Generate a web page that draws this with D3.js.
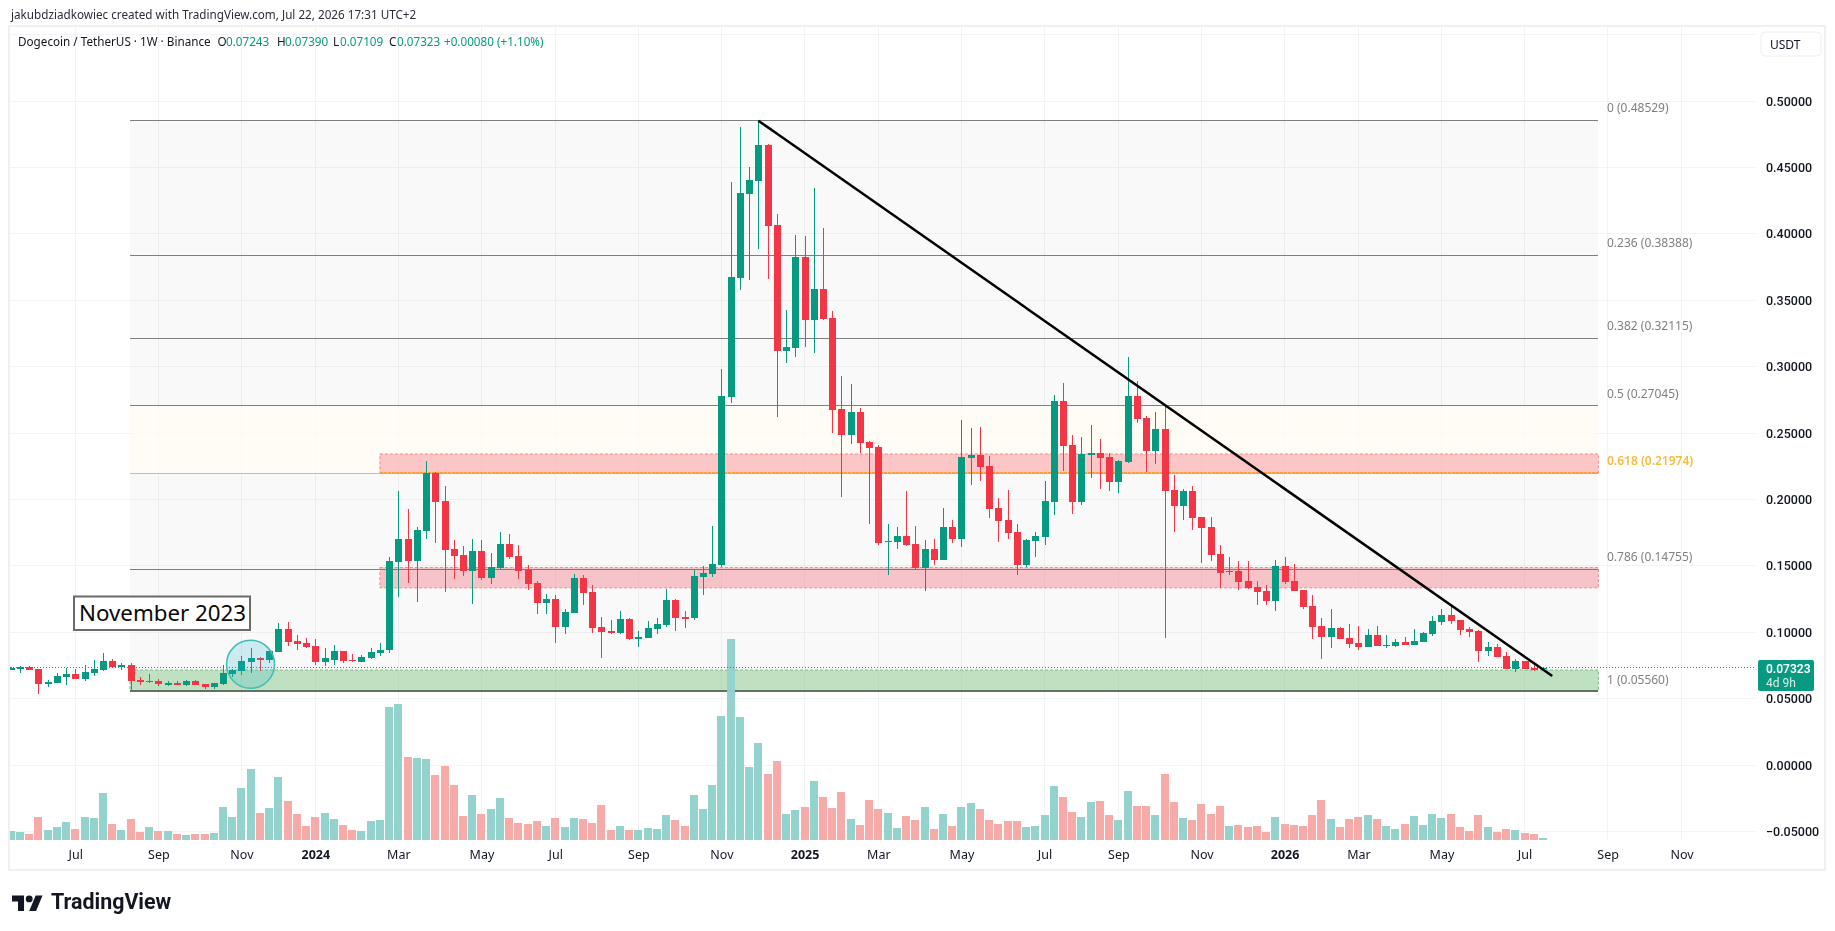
<!DOCTYPE html>
<html>
<head>
<meta charset="utf-8">
<title>Dogecoin / TetherUS weekly</title>
<script src="https://cdn.jsdelivr.net/npm/d3@7/dist/d3.min.js"></script>
<style>
  html, body { margin: 0; padding: 0; background: #fff; }
  svg { display: block; }
  text { font-family: "Noto Sans", "Open Sans", sans-serif; }
</style>
</head>
<body>
<svg id="chart" width="1835" height="931"></svg>
<script>
// Weekly bars, oldest first
const firstWeek = "2023-05-15";
const opens = [
  .0723,.0720,.0740,.0723,.0617,.0617,.0665,.0685,.0645,.0693,
  .0715,.0781,.0745,.0753,.0640,.0635,.0635,.0612,.0615,.0602,
  .0633,.0607,.0590,.0610,.0688,.0710,.0778,.0803,.0788,.0853,
  .1022,.0934,.0919,.0894,.0778,.0791,.0858,.0791,.0778,.0806,
  .0846,.0866,.1531,.1702,.1539,.1765,.2199,.1988,.1627,.1581,
  .1463,.1611,.1411,.1483,.1664,.1574,.1471,.1370,.1222,.1250,
  .1042,.1147,.1408,.1303,.1039,.1009,.0996,.1102,.0954,.0959,
  .1027,.1057,.1242,.1114,.1107,.1418,.1441,.1506,.2774,.3670,
  .4302,.4400,.4669,.4064,.3120,.3140,.3825,.3351,.3584,.3366,
  .2681,.2485,.2658,.2432,.2395,.1682,.1682,.1724,.1664,.1483,
  .1627,.1544,.1792,.1702,.2312,.2334,.2252,.1935,.1845,.1755,
  .1506,.1687,.1717,.1980,.2741,.2410,.1980,.2344,.2349,.2319,
  .2131,.2282,.2779,.2613,.2364,.2530,.2071,.1950,.2063,.1867,
  .1792,.1589,.1451,.1461,.1386,.1340,.1310,.1235,.1498,.1386,
  .1318,.1197,.1047,.0964,.1032,.0956,.0919,.0889,.0979,.0896,
  .0896,.0926,.0904,.0926,.0986,.1077,.1130,.1092,.1024,.1009,
  .0858,.0889,.0821,.0723,.0783,.0730,.07243
];
const highs = [
  .0735,.0745,.0745,.0725,.0640,.0695,.0728,.0720,.0750,.0790,
  .0841,.0796,.0771,.0771,.0660,.0685,.0645,.0633,.0635,.0643,
  .0640,.0612,.0620,.0753,.0720,.0821,.0879,.0811,.0871,.1072,
  .1077,.0976,.0954,.0946,.0879,.0904,.0860,.0836,.0826,.0881,
  .0921,.1569,.2063,.1928,.1795,.2292,.2204,.2101,.1694,.1649,
  .1702,.1694,.1594,.1752,.1739,.1654,.1509,.1386,.1288,.1280,
  .1175,.1438,.1428,.1353,.1112,.1089,.1157,.1104,.1007,.1082,
  .1107,.1325,.1247,.1160,.1468,.1498,.1800,.2979,.4388,.4802,
  .4500,.4852,.4676,.4147,.3426,.3991,.3983,.4342,.4044,.3419,
  .2929,.2869,.2688,.2440,.2410,.1815,.1792,.2063,.1800,.1694,
  .1702,.1935,.1845,.2598,.2538,.2545,.2327,.2011,.2071,.1815,
  .1699,.1755,.2139,.2786,.2877,.2485,.2470,.2560,.2455,.2349,
  .2297,.3072,.2892,.2628,.2658,.2703,.2184,.2078,.2101,.1870,
  .1867,.1657,.1566,.1536,.1536,.1386,.1355,.1544,.1566,.1514,
  .1320,.1280,.1107,.1175,.1037,.1062,.1047,.1024,.1047,.0979,
  .0949,.0964,.1024,.1001,.1122,.1175,.1197,.1092,.1039,.1017,
  .0926,.0911,.0851,.0798,.0786,.0761,.07390
];
const lows = [
  .0715,.0690,.0713,.0535,.0585,.0615,.0602,.0645,.0635,.0670,
  .0710,.0730,.0715,.0557,.0605,.0615,.0597,.0595,.0600,.0595,
  .0600,.0572,.0575,.0605,.0660,.0678,.0695,.0710,.0768,.0851,
  .0899,.0866,.0879,.0753,.0745,.0753,.0766,.0773,.0776,.0796,
  .0821,.0846,.1268,.1373,.1230,.1704,.1674,.1305,.1398,.1426,
  .1210,.1393,.1365,.1476,.1549,.1403,.1318,.1137,.1137,.0921,
  .0989,.1145,.1207,.0996,.0808,.0984,.0989,.0944,.0891,.0956,
  .0989,.1042,.1012,.1032,.1094,.1283,.1418,.1493,.2728,.3577,
  .3652,.3888,.3660,.2623,.3030,.3072,.3148,.3102,.3351,.2500,
  .2018,.2417,.2349,.1815,.1657,.1433,.1627,.1652,.1466,.1308,
  .1506,.1540,.1672,.1644,.2108,.2139,.1860,.1679,.1702,.1431,
  .1493,.1566,.1657,.1883,.2214,.1890,.1958,.2161,.2078,.2063,
  .2048,.2272,.2575,.2206,.2267,.0954,.1757,.1845,.1770,.1521,
  .1536,.1333,.1431,.1318,.1325,.1205,.1205,.1160,.1363,.1308,
  .1175,.0949,.0798,.0881,.0946,.0881,.0866,.0886,.0896,.0879,
  .0891,.0901,.0901,.0926,.0971,.1054,.1062,.0979,.0964,.0776,
  .0821,.0813,.0720,.0700,.0720,.0708,.07109
];
const closes = [
  .0730,.0740,.0715,.0610,.0625,.0670,.0685,.0648,.0700,.0725,
  .0783,.0735,.0750,.0635,.0633,.0630,.0610,.0617,.0605,.0633,
  .0605,.0590,.0615,.0690,.0713,.0781,.0803,.0788,.0858,.1022,
  .0929,.0914,.0886,.0778,.0806,.0858,.0783,.0786,.0813,.0851,
  .0866,.1536,.1702,.1539,.1770,.2199,.1983,.1621,.1576,.1463,
  .1611,.1411,.1491,.1664,.1566,.1463,.1363,.1222,.1250,.1042,
  .1152,.1408,.1298,.1034,.1004,.1004,.1097,.0949,.0961,.1032,
  .1062,.1242,.1107,.1107,.1423,.1443,.1514,.2779,.3675,.4307,
  .4405,.4669,.4059,.3120,.3148,.3825,.3351,.3584,.3358,.2673,
  .2485,.2658,.2425,.2387,.1672,.1687,.1724,.1657,.1481,.1627,
  .1544,.1792,.1702,.2319,.2334,.2244,.1928,.1837,.1747,.1506,
  .1694,.1724,.1988,.2741,.2402,.1980,.2342,.2349,.2312,.2131,
  .2289,.2779,.2605,.2364,.2530,.2063,.1950,.2063,.1860,.1785,
  .1581,.1446,.1463,.1378,.1333,.1303,.1235,.1498,.1378,.1310,
  .1190,.1039,.0964,.1032,.0949,.0911,.0889,.0979,.0896,.0904,
  .0926,.0904,.0934,.0994,.1084,.1130,.1084,.1017,.1001,.0858,
  .0889,.0813,.0723,.0783,.0723,.07243,.07323
];
const volumes = [
  35,32,26,77,38,47,62,41,77,74,
  149,56,38,71,32,47,35,35,26,23,
  26,26,29,107,77,164,221,89,104,197,
  125,86,50,77,89,71,53,38,35,65,
  68,407,416,257,254,251,203,230,173,80,
  143,86,101,134,74,59,56,65,50,74,
  47,74,71,59,113,38,50,38,38,44,
  41,83,68,50,143,101,173,380,611,377,
  227,299,206,245,86,98,107,185,137,104,
  152,71,53,128,101,89,44,80,68,107,
  41,86,50,107,119,101,68,56,65,65,
  47,50,83,170,137,92,77,122,125,83,
  68,155,110,110,83,206,122,74,68,116,
  86,110,50,53,47,50,32,77,56,53,
  50,83,128,71,47,71,77,83,71,50,
  41,56,80,53,86,74,86,47,35,83,
  47,32,41,38,29,26,14
];
// Week whose volume is tinted as an up week although its candle closed lower
const upVolumeWeeks = [15];

// Fibonacci retracement: ratio and price of each level
const fibRatios = ["0", "0.236", "0.382", "0.5", "0.618", "0.786", "1"];
const fibPrices = [0.48529, 0.38388, 0.32115, 0.27045, 0.21974, 0.14755, 0.05560];
const fibStart = "2023-08-14";
const fibEnd = "2026-08-31";

// Support and resistance zones: [top price, bottom price, start week]
const redZones = [[0.2342, 0.21974, "2024-02-19"], [0.1487, 0.1334, "2024-02-19"]];
const greenZone = [0.0715, 0.05560, fibStart];

// Falling trendline from the 2024 high to the latest week
const trendDates = ["2024-12-02", "2026-07-27"];
const trendPrices = [0.4852, 0.0670];

const priceTicks = [0.55, 0.50, 0.45, 0.40, 0.35, 0.30, 0.25, 0.20, 0.15, 0.10, 0.05, 0.00, -0.05];
const monthTicks = ["2023-07-03","2023-09-04","2023-11-06","2024-01-01","2024-03-04","2024-05-06","2024-07-01",
  "2024-09-02","2024-11-04","2025-01-06","2025-03-03","2025-05-05","2025-07-07","2025-09-01","2025-11-03",
  "2026-01-05","2026-03-02","2026-05-04","2026-07-06","2026-09-07","2026-11-02"];
const monthLabels = ["Jul","Sep","Nov","2024","Mar","May","Jul","Sep","Nov","2025","Mar","May","Jul","Sep","Nov",
  "2026","Mar","May","Jul","Sep","Nov"];

const lastPrice = 0.07323;
const attribution = "jakubdziadkowiec created with TradingView.com, Jul 22, 2026 17:31 UTC+2";

const UP = "#089981", DOWN = "#f23645", UP_VOL = "#92d2cc", DOWN_VOL = "#f7a9a7";
const GRID = "#f3f3f5", FIB_LINE = "#7f7f7f", GOLD = "#f5bd3f";
const frame = { left: 10, right: 1825, top: 27, bottom: 870, plotRight: 1755, axisY: 840 };

const parse = d3.utcParse("%Y-%m-%d");
const weeks = opens.map((_, i) => d3.utcWeek.offset(parse(firstWeek), i));

const x = d3.scaleUtc()
  .domain([parse(firstWeek), weeks[weeks.length - 1]])
  .range([10.67, 1543]);
const y = d3.scaleLinear().domain([-0.05, 0.5]).range([831.4, 101]);
const yVol = d3.scaleLinear().domain([0, 611]).range([842.7, 639]);

const svg = d3.select("#chart");
const clip = svg.append("defs").append("clipPath").attr("id", "plot");
clip.append("rect").attr("x", frame.left).attr("y", frame.top)
  .attr("width", frame.plotRight - frame.left).attr("height", frame.axisY - frame.top);

// Outer frame
svg.append("rect")
  .attr("x", frame.left - 1).attr("y", frame.top - 1)
  .attr("width", frame.right - frame.left + 1).attr("height", frame.bottom - frame.top + 1)
  .attr("fill", "#fff").attr("stroke", "#f0f0f1").attr("stroke-width", 2);

// Grid
const grid = svg.append("g").attr("shape-rendering", "crispEdges");
grid.selectAll(".h").data(priceTicks).join("line")
  .attr("x1", frame.left).attr("x2", frame.plotRight)
  .attr("y1", d => y(d)).attr("y2", d => y(d))
  .attr("stroke", GRID);
grid.selectAll(".v").data(monthTicks).join("line")
  .attr("x1", d => x(parse(d))).attr("x2", d => x(parse(d)))
  .attr("y1", frame.top).attr("y2", frame.axisY)
  .attr("stroke", GRID);

// Fibonacci bands and levels
const fibX0 = x(parse(fibStart)) - 0.7, fibX1 = x(parse(fibEnd));
const fibBands = svg.append("g").attr("shape-rendering", "crispEdges");
fibPrices.slice(0, -1).forEach((p, i) => {
  fibBands.append("rect")
    .attr("x", fibX0).attr("width", fibX1 - fibX0)
    .attr("y", y(p)).attr("height", y(fibPrices[i + 1]) - y(p))
    .attr("fill", fibRatios[i] === "0.5" ? "#fff9f0" : "#787878")
    .attr("fill-opacity", fibRatios[i] === "0.5" ? 0.65 : 0.045);
});
fibBands.selectAll("line").data(fibPrices).join("line")
  .attr("x1", fibX0).attr("x2", fibX1)
  .attr("y1", d => y(d)).attr("y2", d => y(d))
  .attr("stroke", (d, i) => fibRatios[i] === "0.618" ? GOLD : FIB_LINE);

svg.append("g").selectAll("text").data(fibPrices).join("text")
  .attr("x", 1607).attr("y", (d, i) => y(d) - (i === 6 ? 11.5 : 12.5))
  .attr("dy", "0.35em")
  .attr("font-size", 12)
  .attr("font-weight", (d, i) => fibRatios[i] === "0.618" ? 600 : 400)
  .attr("fill", (d, i) => fibRatios[i] === "0.618" ? GOLD : "#808080")
  .text((d, i) => `${fibRatios[i]} (${d.toFixed(5)})`);

// Zones
const zones = svg.append("g");
redZones.forEach(([top, bottom, start]) => {
  zones.append("rect")
    .attr("x", x(parse(start))).attr("width", fibX1 - x(parse(start)))
    .attr("y", y(top)).attr("height", y(bottom) - y(top))
    .attr("fill", "#f23645").attr("fill-opacity", 0.27)
    .attr("stroke", "#f28a92").attr("stroke-dasharray", "3 2");
});
zones.append("rect")
  .attr("x", fibX0).attr("width", fibX1 - fibX0)
  .attr("y", y(greenZone[0])).attr("height", y(greenZone[1]) - y(greenZone[0]))
  .attr("fill", "#4caf50").attr("fill-opacity", 0.33)
  .attr("stroke", "#7fb98a").attr("stroke-dasharray", "3 2");

// Level lines that remain visible on top of the zones
const overZones = svg.append("g").attr("shape-rendering", "crispEdges");
overZones.append("line")
  .attr("x1", x(parse(redZones[0][2]))).attr("x2", fibX1)
  .attr("y1", y(fibPrices[4])).attr("y2", y(fibPrices[4]))
  .attr("stroke", "#f9a13c").attr("stroke-dasharray", "3 1").attr("stroke-width", 1.5);
overZones.append("line")
  .attr("x1", x(parse(redZones[1][2]))).attr("x2", fibX1)
  .attr("y1", y(fibPrices[5])).attr("y2", y(fibPrices[5]))
  .attr("stroke", "#9c6a70");
overZones.append("line")
  .attr("x1", fibX0).attr("x2", fibX1)
  .attr("y1", y(fibPrices[6])).attr("y2", y(fibPrices[6]))
  .attr("stroke", "#5f7362").attr("stroke-width", 1.5);

// Volume
const isUp = i => closes[i] >= opens[i];
const volUp = i => isUp(i) || upVolumeWeeks.includes(i);
svg.append("g").attr("clip-path", "url(#plot)").attr("shape-rendering", "crispEdges")
  .selectAll("rect").data(volumes).join("rect")
  .attr("x", (d, i) => x(weeks[i]) - 4)
  .attr("width", 8)
  .attr("y", d => yVol(d))
  .attr("height", d => yVol(0) - yVol(d))
  .attr("fill", (d, i) => volUp(i) ? UP_VOL : DOWN_VOL)
  .attr("fill-opacity", 0.98)
  .style("mix-blend-mode", "multiply");

// Candles
const candles = svg.append("g").attr("clip-path", "url(#plot)").attr("shape-rendering", "crispEdges")
  .selectAll("g").data(d3.range(opens.length)).join("g")
  .attr("fill", i => isUp(i) ? UP : DOWN)
  .attr("stroke", i => isUp(i) ? UP : DOWN);
candles.append("line")
  .attr("x1", i => Math.round(x(weeks[i])) + 0.5).attr("x2", i => Math.round(x(weeks[i])) + 0.5)
  .attr("y1", i => y(highs[i])).attr("y2", i => y(lows[i]));
candles.append("rect")
  .attr("stroke", "none")
  .attr("x", i => Math.round(x(weeks[i])) - 3)
  .attr("width", 7)
  .attr("y", i => y(Math.max(opens[i], closes[i])))
  .attr("height", i => Math.max(1.5, Math.abs(y(opens[i]) - y(closes[i]))));

// Last price line, snapped to a pixel row so the dots stay sharp
const lastY = Math.floor(y(lastPrice)) + 0.5;
svg.append("line")
  .attr("x1", frame.left).attr("x2", frame.plotRight)
  .attr("y1", lastY).attr("y2", lastY)
  .attr("stroke", UP).attr("stroke-dasharray", "1 2")
  .attr("shape-rendering", "crispEdges");

// Trendline
svg.append("path")
  .datum(trendDates.map((d, i) => [x(parse(d)), y(trendPrices[i])]))
  .attr("d", d3.line())
  .attr("fill", "none").attr("stroke", "#000").attr("stroke-width", 2.5);

// November 2023 marker
const markWeek = parse("2023-11-13");
svg.append("circle")
  .attr("cx", x(markWeek) - 0.1).attr("cy", y(0.0758)).attr("r", 24)
  .attr("fill", "#19b5d0").attr("fill-opacity", 0.2)
  .attr("stroke", "#41bdb2").attr("stroke-width", 1.5);

svg.append("rect")
  .attr("x", 74).attr("y", 596.5).attr("width", 176).attr("height", 33.5)
  .attr("fill", "#fff").attr("stroke", "#6a6a6a").attr("stroke-width", 2);
svg.append("text")
  .attr("x", 79).attr("y", 621)
  .attr("font-size", 22.3).attr("fill", "#0a0a0a")
  .text("November 2023");

// Price axis
const yAxis = d3.axisRight(y)
  .tickValues(priceTicks.slice(1))
  .tickSize(0).tickPadding(0)
  .tickFormat(d3.format(".5f"));
const yAxisG = svg.append("g").attr("transform", "translate(1766,0)").call(yAxis);
yAxisG.select(".domain").remove();
yAxisG.selectAll("text")
  .attr("font-size", 12.5).attr("fill", "#131722").attr("font-weight", 500)
  .style("font-family", "Roboto, sans-serif");

// Time axis
const xAxis = d3.axisBottom(x)
  .tickValues(monthTicks.map(parse))
  .tickSize(0).tickPadding(0)
  .tickFormat((d, i) => monthLabels[i]);
const xAxisG = svg.append("g").attr("transform", "translate(0,850)").call(xAxis);
xAxisG.select(".domain").remove();
xAxisG.selectAll("text")
  .attr("font-size", 12.5).attr("fill", "#131722")
  .attr("font-weight", d => d.getUTCMonth() === 0 ? 700 : 400);

// Last price tag
const tag = svg.append("g");
tag.append("rect").attr("x", 1758).attr("y", 660).attr("width", 56).attr("height", 31)
  .attr("rx", 2).attr("fill", UP);
tag.append("text").attr("x", 1766).attr("y", 672.5)
  .attr("font-size", 12).attr("font-weight", 600).attr("fill", "#fff")
  .style("font-family", "Roboto, sans-serif")
  .text(lastPrice.toFixed(5));
tag.append("text").attr("x", 1766).attr("y", 687)
  .attr("font-size", 12).attr("fill", "#d5efe9")
  .style("font-family", "Roboto, sans-serif")
  .text("4d 9h");

// Currency button
svg.append("rect").attr("x", 1761).attr("y", 32).attr("width", 60).attr("height", 24)
  .attr("rx", 4).attr("fill", "#fff").attr("stroke", "#eeeeef");
svg.append("text").attr("x", 1770).attr("y", 49)
  .attr("font-size", 12).attr("fill", "#131722").text("USDT");

// Headline and OHLC legend
svg.append("text").attr("x", 11).attr("y", 19)
  .attr("font-size", 11.7).attr("fill", "#2a2e39").text(attribution);

const last = opens.length - 1;
const legendParts = [
  ["Dogecoin / TetherUS \u00b7 1W \u00b7 Binance", "#131722", 18],
  ["O", "#131722", 217.5], [opens[last].toFixed(5), UP, 226],
  ["H", "#131722", 277], [highs[last].toFixed(5), UP, 285],
  ["L", "#131722", 333], [lows[last].toFixed(5), UP, 340],
  ["C", "#131722", 389], [closes[last].toFixed(5), UP, 397],
  ["+0.00080 (+1.10%)", UP, 444]
];
svg.append("g").selectAll("text").data(legendParts).join("text")
  .attr("x", d => d[2]).attr("y", 46)
  .attr("font-size", 11.7).attr("fill", d => d[1]).text(d => d[0]);

// Wordmark
const logo = svg.append("g").attr("transform", "translate(12,892) scale(0.86)");
logo.append("path").attr("d", "M14 22H7V11H0V4h14v18zM28 22h-8l7.5-18h8L28 22z").attr("fill", "#131722");
logo.append("circle").attr("cx", 20).attr("cy", 8).attr("r", 4).attr("fill", "#131722");
svg.append("text").attr("x", 51).attr("y", 909)
  .attr("font-size", 21.4).attr("font-weight", 700).attr("fill", "#131722")
  .style("font-family", "Roboto, sans-serif")
  .text("TradingView");
</script>
</body>
</html>
